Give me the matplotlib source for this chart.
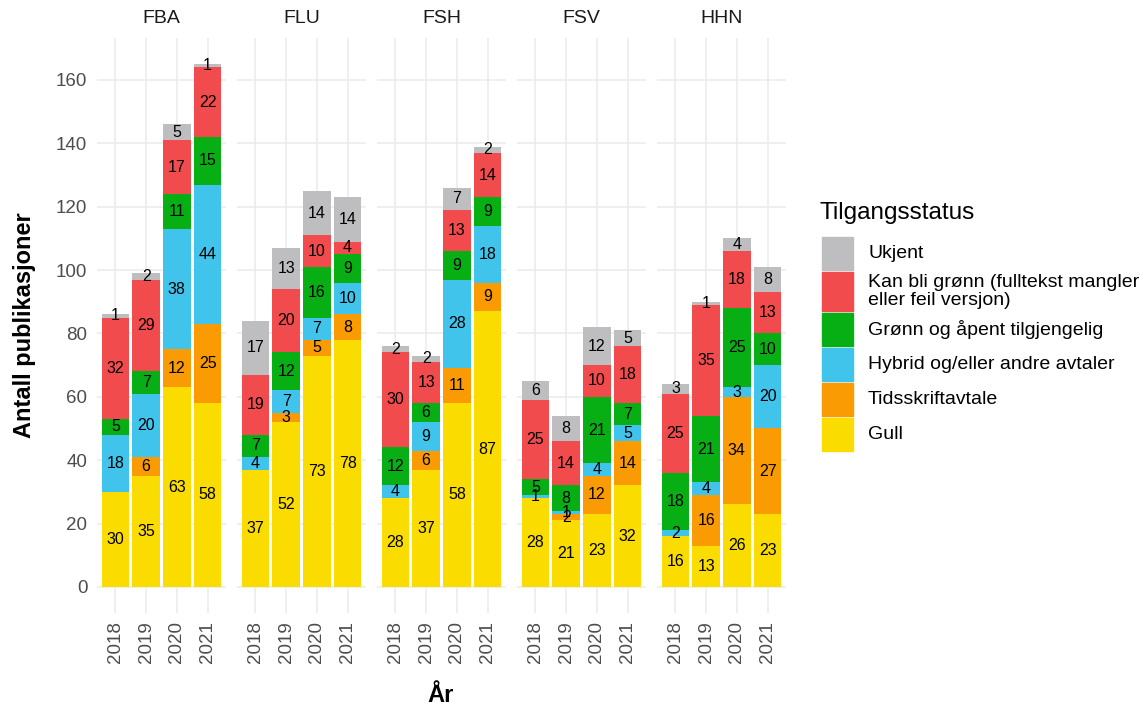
import numpy as np
import matplotlib.pyplot as plt
from matplotlib.patches import Rectangle

plt.rcParams['font.family'] = ['Liberation Sans', 'DejaVu Sans']

# data
faculties = ['FBA', 'FLU', 'FSH', 'FSV', 'HHN']
years = ['2018', '2019', '2020', '2021']
statuses = ['Gull', 'Tidsskriftavtale', 'Hybrid og/eller andre avtaler',
            'Grønn og åpent tilgjengelig',
            'Kan bli grønn (fulltekst mangler\neller feil versjon)', 'Ukjent']
colors = ['#FADC00', '#FA9B03', '#40C4EC', '#08AF14', '#F24B4D', '#BEBEC1']

# values per faculty: rows = years, cols = statuses (bottom -> top)
fba = [[30, 0, 18, 5, 32, 1],
       [35, 6, 20, 7, 29, 2],
       [63, 12, 38, 11, 17, 5],
       [58, 25, 44, 15, 22, 1]]
flu = [[37, 0, 4, 7, 19, 17],
       [52, 3, 7, 12, 20, 13],
       [73, 5, 7, 16, 10, 14],
       [78, 8, 10, 9, 4, 14]]
fsh = [[28, 0, 4, 12, 30, 2],
       [37, 6, 9, 6, 13, 2],
       [58, 11, 28, 9, 13, 7],
       [87, 9, 18, 9, 14, 2]]
fsv = [[28, 0, 1, 5, 25, 6],
       [21, 2, 1, 8, 14, 8],
       [23, 12, 4, 21, 10, 12],
       [32, 14, 5, 7, 18, 5]]
hhn = [[16, 0, 2, 18, 25, 3],
       [13, 16, 4, 21, 35, 1],
       [26, 34, 3, 25, 18, 4],
       [23, 27, 20, 10, 13, 8]]
values = [fba, flu, fsh, fsv, hhn]

W, H = 1148, 708
fig, axes = plt.subplots(1, 5, figsize=(W / 100, H / 100), dpi=100, sharey=True)
fig.subplots_adjust(left=97 / W, right=786 / W, top=1 - 38 / H, bottom=1 - 613 / H,
                    wspace=0.085)

x = np.arange(1, 5)
ymax = max(sum(r) for v in values for r in v)
for i, ax in enumerate(axes):
    data = np.array(values[i])
    bottom = np.zeros(4)
    for j in range(len(statuses)):
        h = data[:, j]
        ax.bar(x, h, bottom=bottom, width=0.9, color=colors[j], zorder=2)
        for k in range(4):
            if h[k] > 0:
                ax.text(x[k], bottom[k] + h[k] / 2, str(h[k]), ha='center',
                        va='center', fontsize=11.5, color='black', zorder=3)
        bottom += h
    ax.set_xlim(0.4, 4.6)
    ax.set_ylim(-0.05 * ymax, 1.05 * ymax)
    ax.set_xticks(x)
    ax.set_xticklabels(years, rotation=90, fontsize=13.5, color='#4D4D4D')
    ax.set_yticks(np.arange(0, 161, 20))
    ax.grid(True, color='#EBEBEB', linewidth=1.1, zorder=0)
    ax.set_axisbelow(True)
    for s in ax.spines.values():
        s.set_visible(False)
    ax.tick_params(length=0, pad=6, axis='x')
    ax.tick_params(length=0, pad=7, axis='y', labelsize=13.5, labelcolor='#4D4D4D')
    if i > 0:
        ax.tick_params(axis='y', labelleft=False)
    ax.set_title(faculties[i], fontsize=14, color='#1A1A1A', pad=11)

fig.text(441 / W, 1 - 696 / H, 'År', ha='center', va='center',
         fontsize=17, fontweight='bold')
fig.text(24 / W, 1 - 325 / H, 'Antall publikasjoner', ha='center', va='center',
         rotation=90, fontsize=17, fontweight='bold')

# legend drawn in pixel coordinates
lax = fig.add_axes([0, 0, 1, 1])
lax.set_xlim(0, W)
lax.set_ylim(H, 0)
lax.axis('off')
lax.text(820, 213, 'Tilgangsstatus', fontsize=17.5, va='center', ha='left')
rows = [(237, 270), (272, 311), (313, 346), (348, 381), (383, 416), (418, 451)]
for (y0, y1), lab, c in zip(rows, statuses[::-1], colors[::-1]):
    lax.add_patch(Rectangle((822, y0), 31, y1 - y0, color=c))
    lax.text(868, (y0 + y1) / 2, lab, fontsize=14, va='center', ha='left',
             linespacing=1.05)

plt.savefig('out.png', dpi=100)
